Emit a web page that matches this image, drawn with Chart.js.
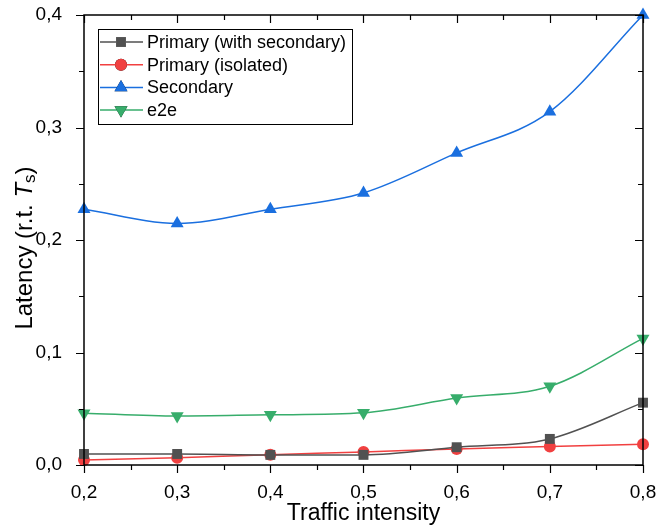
<!DOCTYPE html>
<html>
<head>
<meta charset="utf-8">
<script src="https://cdn.jsdelivr.net/npm/chart.js@4"></script>
<style>
  html, body { margin: 0; padding: 0; background: #fff; }
  #wrap { width: 656px; height: 526px; }
</style>
</head>
<body>
<div id="wrap"><canvas id="latencyChart" width="656" height="526"></canvas></div>
<script>
// Traffic intensity values (x)
const intensity = [0.2, 0.3, 0.4, 0.5, 0.6, 0.7, 0.8];

// Latency relative to T_s
const primaryWithSecondary = [0.0098, 0.0098, 0.009, 0.009, 0.0158, 0.0232, 0.0554];
const primaryIsolated = [0.0045, 0.0065, 0.0092, 0.0116, 0.0143, 0.0164, 0.0185];
const secondary = [0.2274, 0.2147, 0.2274, 0.2418, 0.2774, 0.3141, 0.400];
const e2e = [0.0461, 0.0435, 0.0446, 0.0464, 0.0595, 0.070, 0.1125];

const seriesNames = ['Primary (with secondary)', 'Primary (isolated)', 'Secondary', 'e2e'];
const seriesColors = ['#515151', '#F14040', '#1A6FDF', '#37AD6B'];
const xTitle = 'Traffic intensity';

const FONT = 'Liberation Sans, Arial, sans-serif';
const comma = v => v.toFixed(1).replace('.', ',');

function toPoints(values) {
  return intensity.map((x, i) => ({ x: x, y: values[i] }));
}

function makeSet(idx, values, style, radius, rotation) {
  return {
    label: seriesNames[idx],
    data: toPoints(values),
    borderColor: seriesColors[idx],
    backgroundColor: seriesColors[idx],
    borderWidth: 1.5,
    pointStyle: style,
    pointRadius: radius,
    pointRotation: rotation || 0,
    pointBorderWidth: 0,
    cubicInterpolationMode: 'monotone',
    clip: false
  };
}

// Frame, ticks, minor ticks, axis titles and legend box
const framePlugin = {
  id: 'frame',
  afterDraw(chart) {
    const ctx = chart.ctx;
    const a = chart.chartArea;
    const xs = chart.scales.x, ys = chart.scales.y;
    ctx.save();
    ctx.strokeStyle = '#000';
    ctx.lineWidth = 1.5;
    ctx.strokeRect(a.left, a.top, a.right - a.left, a.bottom - a.top);

    ctx.lineWidth = 1.2;
    ctx.beginPath();
    // x ticks: outward at bottom, inward at top
    for (let v = 0.2; v <= 0.8001; v += 0.05) {
      const px = Math.round(xs.getPixelForValue(v)) + 0.5;
      const major = Math.abs(v * 10 - Math.round(v * 10)) < 1e-6;
      const len = major ? 8 : 5;
      ctx.moveTo(px, a.bottom); ctx.lineTo(px, a.bottom + len);
      ctx.moveTo(px, a.top); ctx.lineTo(px, a.top + len);
    }
    // y ticks: outward at left, inward at right
    for (let v = 0; v <= 0.4001; v += 0.05) {
      const py = Math.round(ys.getPixelForValue(v)) + 0.5;
      const major = Math.abs(v * 10 - Math.round(v * 10)) < 1e-6;
      const len = major ? 8 : 5;
      ctx.moveTo(a.left, py); ctx.lineTo(a.left - len, py);
      ctx.moveTo(a.right, py); ctx.lineTo(a.right - len, py);
    }
    ctx.stroke();

    // x axis title
    ctx.fillStyle = '#000';
    ctx.font = '23px ' + FONT;
    ctx.textAlign = 'center';
    ctx.textBaseline = 'alphabetic';
    ctx.fillText(xTitle, (a.left + a.right) / 2, 520);
    ctx.textAlign = 'left';

    // y axis title: Latency (r.t. T_s)
    ctx.translate(25, 248);
    ctx.rotate(-Math.PI / 2);
    ctx.textBaseline = 'middle';
    const f1 = '24px ' + FONT, fi = 'italic 24px ' + FONT, fs = '17px ' + FONT;
    ctx.font = f1;
    const p1 = 'Latency (r.t. ';
    const w1 = ctx.measureText(p1).width;
    ctx.font = fi; const w2 = ctx.measureText('T').width;
    ctx.font = fs; const w3 = ctx.measureText('s').width;
    ctx.font = f1; const w4 = ctx.measureText(')').width;
    let x0 = -(w1 + w2 + w3 + w4) / 2;
    ctx.font = f1; ctx.fillText(p1, x0, 0); x0 += w1;
    ctx.font = fi; ctx.fillText('T', x0, 0); x0 += w2;
    ctx.font = fs; ctx.fillText('s', x0, 5); x0 += w3;
    ctx.font = f1; ctx.fillText(')', x0, 0);
    ctx.restore();

    // legend box
    ctx.save();
    const bx = 98, by = 29, bw = 254, bh = 95;
    ctx.fillStyle = '#fff';
    ctx.fillRect(bx, by, bw, bh);
    ctx.strokeStyle = '#000';
    ctx.lineWidth = 1;
    ctx.strokeRect(bx + 0.5, by + 0.5, bw, bh);
    ctx.font = '18px ' + FONT;
    ctx.textBaseline = 'middle';
    chart.data.datasets.forEach((ds, i) => {
      const yy = 42 + i * 22.7;
      ctx.strokeStyle = ds.borderColor;
      ctx.lineWidth = 1.5;
      ctx.beginPath(); ctx.moveTo(100, yy); ctx.lineTo(143, yy); ctx.stroke();
      Chart.helpers.drawPoint(ctx, {
        pointStyle: ds.pointStyle, rotation: ds.pointRotation,
        radius: ds.pointRadius, borderWidth: 0
      }, 121, yy);
      ctx.fillStyle = ds.backgroundColor;
      ctx.fill();
      ctx.fillStyle = '#000';
      ctx.fillText(ds.label, 147, yy + 1);
    });
    ctx.restore();
  }
};

new Chart(document.getElementById('latencyChart').getContext('2d'), {
  type: 'line',
  data: {
    datasets: [
      makeSet(0, primaryWithSecondary, 'rect', 7),
      makeSet(1, primaryIsolated, 'circle', 6),
      makeSet(2, secondary, 'triangle', 7.5),
      makeSet(3, e2e, 'triangle', 7.5, 180)
    ]
  },
  options: {
    responsive: false,
    animation: false,
    layout: { padding: { top: 15, right: 13, left: 0, bottom: 0 } },
    plugins: {
      legend: { display: false },
      tooltip: { enabled: false }
    },
    scales: {
      x: {
        type: 'linear',
        min: 0.2,
        max: 0.8,
        grid: { display: false },
        border: { display: false },
        ticks: {
          stepSize: 0.1,
          padding: 8,
          color: '#000',
          font: { family: FONT, size: 19 },
          maxRotation: 0,
          callback: v => comma(v)
        },
        afterFit: s => { s.height = 61; s.paddingLeft = 0; s.paddingRight = 0; }
      },
      y: {
        min: 0,
        max: 0.4,
        grid: { display: false },
        border: { display: false },
        ticks: {
          stepSize: 0.1,
          padding: 14,
          color: '#000',
          font: { family: FONT, size: 19 },
          callback: v => comma(v)
        },
        afterFit: s => { s.width = 84; s.paddingTop = 0; s.paddingBottom = 0; }
      }
    }
  },
  plugins: [framePlugin]
});
</script>
</body>
</html>
